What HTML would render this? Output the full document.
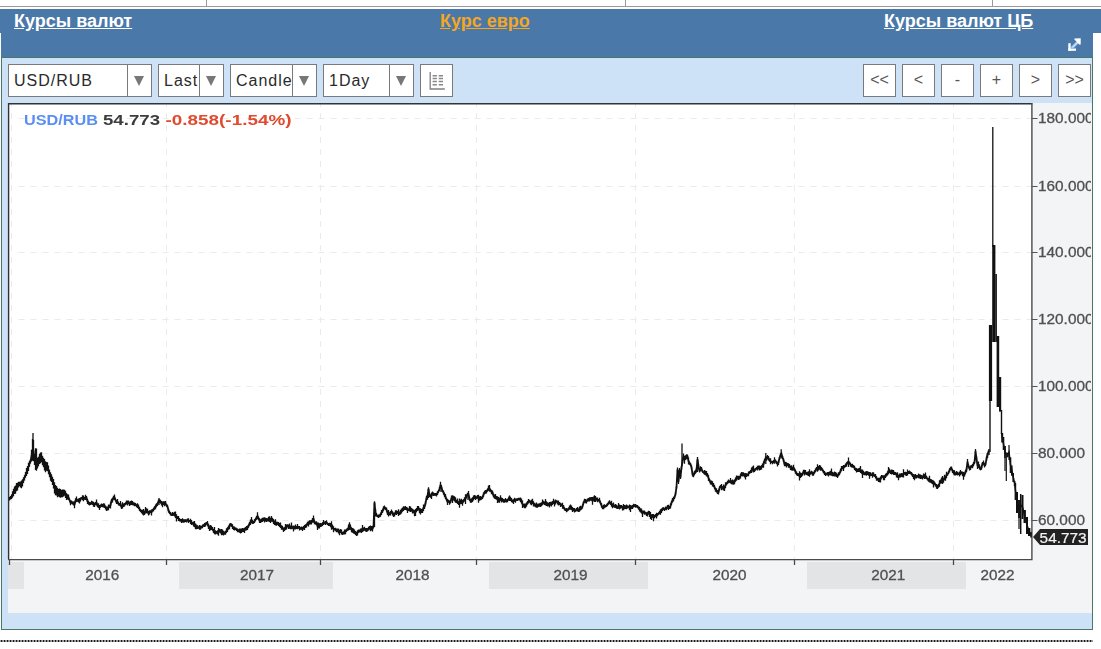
<!DOCTYPE html>
<html><head><meta charset="utf-8">
<style>
html,body{margin:0;padding:0;background:#fff;}
body{width:1101px;height:649px;position:relative;overflow:hidden;font-family:"Liberation Sans",sans-serif;}
.a{position:absolute;}
.hl{position:absolute;top:6px;left:0;width:1101px;height:1px;background:#9a9a9a;}
.vl{position:absolute;top:0;width:1px;height:6px;background:#9a9a9a;}
.hdr{position:absolute;left:0;top:9px;width:1101px;height:24px;background:#4a78a8;}
.ptop{position:absolute;left:1px;top:33px;width:1092px;height:24px;background:#4a78a8;}
.pbody{position:absolute;left:1px;top:57px;width:1090px;height:571px;background:#cde1f7;border:1px solid #467a66;}
.lnk{position:absolute;top:10px;font-size:18px;font-weight:bold;text-decoration:underline;color:#fff;white-space:nowrap;line-height:22px;}
.sel{position:absolute;top:64px;height:31px;background:#fff;border:1px solid #7a7a7a;}
.sel .t{position:absolute;left:5px;top:6px;font-size:16px;color:#2a2a2a;white-space:nowrap;overflow:hidden;line-height:19px;letter-spacing:1px;}
.sel .dv{position:absolute;top:0;width:1px;height:31px;background:#7a7a7a;}
.sel .ar{position:absolute;top:11px;width:0;height:0;border-left:5.5px solid transparent;border-right:5.5px solid transparent;border-top:10px solid #777;margin-left:-1.5px;}
.btn{position:absolute;top:64px;width:31px;height:31px;background:#fff;border:1px solid #7a7a7a;font-size:16px;color:#555;text-align:center;line-height:30px;}
svg text.ax{font-family:"Liberation Sans",sans-serif;font-size:14.5px;font-weight:normal;fill:#505050;stroke:#505050;stroke-width:0.3;}
svg.a{will-change:transform;}
</style></head><body>
<div class="hl"></div>
<div class="vl" style="left:206px"></div>
<div class="vl" style="left:625px"></div>
<div class="vl" style="left:992px"></div>
<div class="hdr"></div>
<div class="ptop"></div>
<div class="pbody"></div>
<div class="lnk" style="left:14px">Курсы валют</div>
<div class="lnk" style="left:440px;color:#f5a623">Курс евро</div>
<div class="lnk" style="left:884px">Курсы валют ЦБ</div>
<svg class="a" style="left:1062px;top:33px" width="26" height="23" viewBox="0 0 26 23">
  <rect x="6.3" y="10.2" width="2.4" height="7.6" fill="#fff"/>
  <rect x="6.3" y="15.5" width="7.7" height="2.3" fill="#fff"/>
  <path d="M9.6,15.2 L16.4,8.4" stroke="#9cc8f2" stroke-width="2.8"/>
  <path d="M10.4,14.4 L15.6,9.2" stroke="#d8ecff" stroke-width="1"/>
  <polygon points="12.4,5.4 18.7,5.3 18.7,11.6 17.2,11.6 15.6,9.8 14.2,8.2 12.4,6.6" fill="#fff"/>
</svg>
<div class="sel" style="left:8px;width:142px"><div class="t" style="width:112px">USD/RUB</div><div class="dv" style="left:118px"></div><div class="ar" style="left:126px"></div></div>
<div class="sel" style="left:158px;width:64px"><div class="t" style="width:35px">Last</div><div class="dv" style="left:40px"></div><div class="ar" style="left:48px"></div></div>
<div class="sel" style="left:230px;width:85px"><div class="t" style="width:56px">Candle</div><div class="dv" style="left:61px"></div><div class="ar" style="left:69px"></div></div>
<div class="sel" style="left:323px;width:89px"><div class="t" style="width:60px">1Day</div><div class="dv" style="left:65px"></div><div class="ar" style="left:73px"></div></div>
<div class="btn" style="left:420px"><svg width="31" height="31" style="position:absolute;left:0;top:0">
<path d="M9.2,7 L9.2,24 L23.8,24" fill="none" stroke="#808080" stroke-width="1.3"/>
<g stroke="#888" stroke-width="1.5"><path d="M11.6,10.7h4.3M17.7,10.7h4.3M11.6,13.6h4.3M17.7,13.6h4.3M11.6,16.6h4.3M17.7,16.6h4.3M11.6,19.7h4.3M17.7,19.7h4.3"/></g>
</svg></div>
<div class="btn" style="left:863px">&lt;&lt;</div>
<div class="btn" style="left:902px">&lt;</div>
<div class="btn" style="left:941px">-</div>
<div class="btn" style="left:980px">+</div>
<div class="btn" style="left:1019px">&gt;</div>
<div class="btn" style="left:1058px">&gt;&gt;</div>
<svg class="a" style="left:0;top:0" width="1101" height="649">
<rect x="8" y="103" width="1084" height="510" fill="#f3f4f6"/>
<rect x="8" y="562" width="16" height="27" fill="#e3e4e6"/><rect x="179" y="562" width="154" height="27" fill="#e3e4e6"/><rect x="489" y="562" width="159" height="27" fill="#e3e4e6"/><rect x="807" y="562" width="159" height="27" fill="#e3e4e6"/>
<rect x="9" y="104" width="1023" height="455" fill="#fff"/>
<line x1="12.5" y1="118.5" x2="1032" y2="118.5" stroke="#ebebeb" stroke-width="1" stroke-dasharray="6 6" stroke-dashoffset="6"/><line x1="12.5" y1="186.5" x2="1032" y2="186.5" stroke="#ebebeb" stroke-width="1" stroke-dasharray="6 6" stroke-dashoffset="6"/><line x1="12.5" y1="252.5" x2="1032" y2="252.5" stroke="#ebebeb" stroke-width="1" stroke-dasharray="6 6" stroke-dashoffset="6"/><line x1="12.5" y1="319.5" x2="1032" y2="319.5" stroke="#ebebeb" stroke-width="1" stroke-dasharray="6 6" stroke-dashoffset="6"/><line x1="12.5" y1="386.5" x2="1032" y2="386.5" stroke="#ebebeb" stroke-width="1" stroke-dasharray="6 6" stroke-dashoffset="6"/><line x1="12.5" y1="453.5" x2="1032" y2="453.5" stroke="#ebebeb" stroke-width="1" stroke-dasharray="6 6" stroke-dashoffset="6"/><line x1="12.5" y1="520.5" x2="1032" y2="520.5" stroke="#ebebeb" stroke-width="1" stroke-dasharray="6 6" stroke-dashoffset="6"/><line x1="11.5" y1="104" x2="11.5" y2="559" stroke="#ebebeb" stroke-width="1" stroke-dasharray="6 6" stroke-dashoffset="3"/><line x1="166.5" y1="104" x2="166.5" y2="559" stroke="#ebebeb" stroke-width="1" stroke-dasharray="6 6" stroke-dashoffset="3"/><line x1="320.5" y1="104" x2="320.5" y2="559" stroke="#ebebeb" stroke-width="1" stroke-dasharray="6 6" stroke-dashoffset="3"/><line x1="476.5" y1="104" x2="476.5" y2="559" stroke="#ebebeb" stroke-width="1" stroke-dasharray="6 6" stroke-dashoffset="3"/><line x1="635.5" y1="104" x2="635.5" y2="559" stroke="#ebebeb" stroke-width="1" stroke-dasharray="6 6" stroke-dashoffset="3"/><line x1="794.5" y1="104" x2="794.5" y2="559" stroke="#ebebeb" stroke-width="1" stroke-dasharray="6 6" stroke-dashoffset="3"/><line x1="953.5" y1="104" x2="953.5" y2="559" stroke="#ebebeb" stroke-width="1" stroke-dasharray="6 6" stroke-dashoffset="3"/>
<path d="M8.6,559 V103.7 H1032.3" fill="none" stroke="#333" stroke-width="1.4"/>
<path d="M1031.9,103 V559.6 H8" fill="none" stroke="#4a4a4a" stroke-width="1.4"/>
<path d="M67.5,496.9 L68.5,497.2 L69.5,500.0 L70.5,502.8 L71.5,502.0 L72.5,503.0 L73.5,503.6 L74.5,504.7 L75.5,500.7 L76.5,499.4 L77.5,500.3 L78.5,500.6 L79.5,500.9 L80.5,499.5 L81.5,498.0 L82.5,497.8 L83.5,498.5 L84.5,498.5 L85.5,497.4 L86.5,497.8 L87.5,501.5 L88.5,502.8 L89.5,503.8 L90.5,503.7 L91.5,502.6 L92.5,503.2 L93.5,504.2 L94.5,504.9 L95.5,503.5 L96.5,502.5 L97.5,505.4 L98.5,505.5 L99.5,507.5 L100.5,505.9 L101.5,505.4 L102.5,505.7 L103.5,505.3 L104.5,505.8 L105.5,507.5 L106.5,508.7 L107.5,508.5 L108.5,507.4 L109.5,506.4 L110.5,505.4 L111.5,500.8 L112.5,500.1 L113.5,497.7 L114.5,497.2 L115.5,499.9 L116.5,502.2 L117.5,501.5 L118.5,503.9 L119.5,504.4 L120.5,503.7 L121.5,507.0 L122.5,505.5 L123.5,505.2 L124.5,504.8 L125.5,503.7 L126.5,502.4 L127.5,503.0 L128.5,502.0 L129.5,504.0 L130.5,503.2 L131.5,502.7 L132.5,503.2 L133.5,503.9 L134.5,504.4 L135.5,504.5 L136.5,505.7 L137.5,505.7 L138.5,506.8 L139.5,509.0 L140.5,510.5 L141.5,511.6 L142.5,512.1 L143.5,512.2 L144.5,513.1 L145.5,510.3 L146.5,510.7 L147.5,511.2 L148.5,513.2 L149.5,512.3 L150.5,511.6 L151.5,512.5 L152.5,510.2 L153.5,509.6 L154.5,508.0 L155.5,506.8 L156.5,505.3 L157.5,504.3 L158.5,501.2 L159.5,501.2 L160.5,501.6 L161.5,503.3 L162.5,504.4 L163.5,503.2 L164.5,503.8 L165.5,503.1 L166.5,505.3 L167.5,506.6 L168.5,510.5 L169.5,512.5 L170.5,513.8 L171.5,514.7 L172.5,514.0 L173.5,514.2 L174.5,514.2 L175.5,514.7 L176.5,517.9 L177.5,517.6 L178.5,518.5 L179.5,519.8 L180.5,520.2 L181.5,520.9 L182.5,520.3 L183.5,521.0 L184.5,520.9 L185.5,520.6 L186.5,521.0 L187.5,520.0 L188.5,520.6 L189.5,521.0 L190.5,521.4 L191.5,522.5 L192.5,523.3 L193.5,524.1 L194.5,524.2 L195.5,526.4 L196.5,526.9 L197.5,527.1 L198.5,527.6 L199.5,527.3 L200.5,527.7 L201.5,527.1 L202.5,526.4 L203.5,525.5 L204.5,525.0 L205.5,524.5 L206.5,523.2 L207.5,523.4 L208.5,526.5 L209.5,528.2 L210.5,527.6 L211.5,527.9 L212.5,528.8 L213.5,530.9 L214.5,530.7 L215.5,532.5 L216.5,532.4 L217.5,532.3 L218.5,531.8 L219.5,530.7 L220.5,531.4 L221.5,532.1 L222.5,532.3 L223.5,533.2 L224.5,533.1 L225.5,532.9 L226.5,530.6 L227.5,529.6 L228.5,527.5 L229.5,526.6 L230.5,524.0 L231.5,525.1 L232.5,526.6 L233.5,528.2 L234.5,528.6 L235.5,528.7 L236.5,529.3 L237.5,530.3 L238.5,530.8 L239.5,530.6 L240.5,531.1 L241.5,530.7 L242.5,529.9 L243.5,530.1 L244.5,530.3 L245.5,528.8 L246.5,528.3 L247.5,527.8 L248.5,526.1 L249.5,523.7 L250.5,522.1 L251.5,520.1 L252.5,521.8 L253.5,522.6 L254.5,521.2 L255.5,519.6 L256.5,517.8 L257.5,515.8 L258.5,518.3 L259.5,520.6 L260.5,521.1 L261.5,520.3 L262.5,519.9 L263.5,519.3 L264.5,519.9 L265.5,519.7 L266.5,520.0 L267.5,519.8 L268.5,519.2 L269.5,519.1 L270.5,520.3 L271.5,518.9 L272.5,519.7 L273.5,521.6 L274.5,522.7 L275.5,522.4 L276.5,523.7 L277.5,523.4 L278.5,523.9 L279.5,525.0 L280.5,525.3 L281.5,527.7 L282.5,527.7 L283.5,529.9 L284.5,529.0 L285.5,527.1 L286.5,527.1 L287.5,525.7 L288.5,526.7 L289.5,526.1 L290.5,527.5 L291.5,525.9 L292.5,527.6 L293.5,528.5 L294.5,527.5 L295.5,527.0 L296.5,527.4 L297.5,526.6 L298.5,527.2 L299.5,528.3 L300.5,528.4 L301.5,528.2 L302.5,529.0 L303.5,527.9 L304.5,527.6 L305.5,526.1 L306.5,525.6 L307.5,523.5 L308.5,523.9 L309.5,522.4 L310.5,522.4 L311.5,522.2 L312.5,520.1 L313.5,518.6 L314.5,522.4 L315.5,523.2 L316.5,523.0 L317.5,526.3 L318.5,525.5 L319.5,525.9 L320.5,525.0 L321.5,525.0 L322.5,524.1 L323.5,522.5 L324.5,523.0 L325.5,523.0 L326.5,522.2 L327.5,523.9 L328.5,524.5 L329.5,524.3 L330.5,525.2 L331.5,525.5 L332.5,526.7 L333.5,529.3 L334.5,529.1 L335.5,529.5 L336.5,530.3 L337.5,530.5 L338.5,531.0 L339.5,532.5 L340.5,531.1 L341.5,532.0 L342.5,533.4 L343.5,533.0 L344.5,532.0 L345.5,531.8 L346.5,530.5 L347.5,529.4 L348.5,527.7 L349.5,524.3 L350.5,527.5 L351.5,529.7 L352.5,530.3 L353.5,530.9 L354.5,531.7 L355.5,533.0 L356.5,533.9 L357.5,532.8 L358.5,531.2 L359.5,531.1 L360.5,530.6 L361.5,530.7 L362.5,528.4 L363.5,529.3 L364.5,528.7 L365.5,529.7 L366.5,530.0 L367.5,529.8 L368.5,528.6 L369.5,527.8 L370.5,528.3 L371.5,528.2 L372.5,528.8 L373.5,526.5 L374.5,503.2 L375.5,512.7 L376.5,514.7 L377.5,516.2 L378.5,516.3 L379.5,515.8 L380.5,514.7 L381.5,512.5 L382.5,511.2 L383.5,508.4 L384.5,507.4 L385.5,508.6 L386.5,509.4 L387.5,512.9 L388.5,513.3 L389.5,513.8 L390.5,513.2 L391.5,511.4 L392.5,513.3 L393.5,514.7 L394.5,514.6 L395.5,512.3 L396.5,512.7 L397.5,512.5 L398.5,512.6 L399.5,513.3 L400.5,512.2 L401.5,511.0 L402.5,509.6 L403.5,508.6 L404.5,508.2 L405.5,508.0 L406.5,508.5 L407.5,510.3 L408.5,509.8 L409.5,508.7 L410.5,509.3 L411.5,509.8 L412.5,511.2 L413.5,511.3 L414.5,513.2 L415.5,512.5 L416.5,510.0 L417.5,508.5 L418.5,507.8 L419.5,510.7 L420.5,511.3 L421.5,511.0 L422.5,510.9 L423.5,507.8 L424.5,507.0 L425.5,503.3 L426.5,498.0 L427.5,496.8 L428.5,489.2 L429.5,495.1 L430.5,496.0 L431.5,495.8 L432.5,493.4 L433.5,494.4 L434.5,494.3 L435.5,494.4 L436.5,494.7 L437.5,493.1 L438.5,491.4 L439.5,489.0 L440.5,484.9 L441.5,487.4 L442.5,491.0 L443.5,492.4 L444.5,495.0 L445.5,496.5 L446.5,499.5 L447.5,501.9 L448.5,501.2 L449.5,502.6 L450.5,501.8 L451.5,498.1 L452.5,499.2 L453.5,498.2 L454.5,498.9 L455.5,499.9 L456.5,501.6 L457.5,501.2 L458.5,503.0 L459.5,503.1 L460.5,501.9 L461.5,501.4 L462.5,502.8 L463.5,500.8 L464.5,499.4 L465.5,499.1 L466.5,496.3 L467.5,494.2 L468.5,494.2 L469.5,498.9 L470.5,501.0 L471.5,500.4 L472.5,499.6 L473.5,498.1 L474.5,497.1 L475.5,497.8 L476.5,497.6 L477.5,496.6 L478.5,498.8 L479.5,498.6 L480.5,498.2 L481.5,498.3 L482.5,497.4 L483.5,494.7 L484.5,492.6 L485.5,491.8 L486.5,491.6 L487.5,490.2 L488.5,488.1 L489.5,488.4 L490.5,490.2 L491.5,492.1 L492.5,492.3 L493.5,495.7 L494.5,496.7 L495.5,496.6 L496.5,497.8 L497.5,499.6 L498.5,499.7 L499.5,500.3 L500.5,498.2 L501.5,500.1 L502.5,499.9 L503.5,500.9 L504.5,501.0 L505.5,500.1 L506.5,500.8 L507.5,500.5 L508.5,499.2 L509.5,496.8 L510.5,499.0 L511.5,500.2 L512.5,501.0 L513.5,501.6 L514.5,499.8 L515.5,500.6 L516.5,499.6 L517.5,499.7 L518.5,499.0 L519.5,499.1 L520.5,499.9 L521.5,501.0 L522.5,504.2 L523.5,505.5 L524.5,505.9 L525.5,505.9 L526.5,504.7 L527.5,502.8 L528.5,501.3 L529.5,501.1 L530.5,502.6 L531.5,502.5 L532.5,501.5 L533.5,503.8 L534.5,504.6 L535.5,505.5 L536.5,505.0 L537.5,505.8 L538.5,505.2 L539.5,504.9 L540.5,504.9 L541.5,504.3 L542.5,502.4 L543.5,502.5 L544.5,503.2 L545.5,502.3 L546.5,503.7 L547.5,504.3 L548.5,504.5 L549.5,504.7 L550.5,503.8 L551.5,504.0 L552.5,503.0 L553.5,501.4 L554.5,503.4 L555.5,502.0 L556.5,501.4 L557.5,502.5 L558.5,503.0 L559.5,503.5 L560.5,504.8 L561.5,504.9 L562.5,505.8 L563.5,506.8 L564.5,508.9 L565.5,509.8 L566.5,510.1 L567.5,510.0 L568.5,509.1 L569.5,507.6 L570.5,507.0 L571.5,507.8 L572.5,509.5 L573.5,509.6 L574.5,510.3 L575.5,510.5 L576.5,509.6 L577.5,509.2 L578.5,510.2 L579.5,509.2 L580.5,508.1 L581.5,508.1 L582.5,506.4 L583.5,502.9 L584.5,500.6 L585.5,501.1 L586.5,501.6 L587.5,500.0 L588.5,499.8 L589.5,499.4 L590.5,499.0 L591.5,498.8 L592.5,501.0 L593.5,498.9 L594.5,498.6 L595.5,499.0 L596.5,499.0 L597.5,499.9 L598.5,500.2 L599.5,500.2 L600.5,503.0 L601.5,505.3 L602.5,507.5 L603.5,507.0 L604.5,506.3 L605.5,506.2 L606.5,505.7 L607.5,504.4 L608.5,503.1 L609.5,502.1 L610.5,503.4 L611.5,503.7 L612.5,505.8 L613.5,504.8 L614.5,506.3 L615.5,506.0 L616.5,506.7 L617.5,507.3 L618.5,505.9 L619.5,507.0 L620.5,506.8 L621.5,506.4 L622.5,508.1 L623.5,507.1 L624.5,507.1 L625.5,507.0 L626.5,506.9 L627.5,506.9 L628.5,507.0 L629.5,507.4 L630.5,508.5 L631.5,507.3 L632.5,507.1 L633.5,505.6 L634.5,505.7 L635.5,505.9 L636.5,506.1 L637.5,506.5 L638.5,508.1 L639.5,509.2 L640.5,510.4 L641.5,510.9 L642.5,513.6 L643.5,511.9 L644.5,512.5 L645.5,513.0 L646.5,514.2 L647.5,514.1 L648.5,512.7 L649.5,514.1 L650.5,515.4 L651.5,517.1 L652.5,515.9 L653.5,517.6 L654.5,516.7 L655.5,515.5 L656.5,515.7 L657.5,514.7 L658.5,513.7 L659.5,512.6 L660.5,512.0 L661.5,510.9 L662.5,509.3 L663.5,508.5 L664.5,509.5 L665.5,508.2 L666.5,508.5 L667.5,506.9 L668.5,507.4 L669.5,507.4 L670.5,505.9 L671.5,502.8 L672.5,500.2 L673.5,499.1 L674.5,497.4 L675.5,494.0 L676.5,487.2 L677.5,469.8 L678.5,481.4 L679.5,470.4 L680.5,477.2 L681.5,467.7 L682.5,461.5 L683.5,455.8 L684.5,459.9 L685.5,457.7 L686.5,456.8 L687.5,456.4 L688.5,461.0 L689.5,463.1 L690.5,464.4 L691.5,467.3 L692.5,474.1 L693.5,475.4 L694.5,472.9 L695.5,471.8 L696.5,470.1 L697.5,459.5 L698.5,466.5 L699.5,470.6 L700.5,468.9 L701.5,468.8 L702.5,471.4 L703.5,472.5 L704.5,472.4 L705.5,473.0 L706.5,473.7 L707.5,474.8 L708.5,478.1 L709.5,480.2 L710.5,482.6 L711.5,482.5 L712.5,484.0 L713.5,484.9 L714.5,487.1 L715.5,489.8 L716.5,490.4 L717.5,492.0 L718.5,492.2 L719.5,488.3 L720.5,486.4 L721.5,487.1 L722.5,487.8 L723.5,487.5 L724.5,488.3 L725.5,485.1 L726.5,483.9 L727.5,482.3 L728.5,481.3 L729.5,481.8 L730.5,480.7 L731.5,482.3 L732.5,482.1 L733.5,482.5 L734.5,482.0 L735.5,479.7 L736.5,478.1 L737.5,477.6 L738.5,477.8 L739.5,477.9 L740.5,476.0 L741.5,474.1 L742.5,474.4 L743.5,474.3 L744.5,475.3 L745.5,476.3 L746.5,475.2 L747.5,475.0 L748.5,473.8 L749.5,472.5 L750.5,471.6 L751.5,470.3 L752.5,469.0 L753.5,468.9 L754.5,470.4 L755.5,469.3 L756.5,468.3 L757.5,468.2 L758.5,467.5 L759.5,468.0 L760.5,468.0 L761.5,467.4 L762.5,465.5 L763.5,464.6 L764.5,460.9 L765.5,458.3 L766.5,458.5 L767.5,457.2 L768.5,458.2 L769.5,460.0 L770.5,461.2 L771.5,461.8 L772.5,462.5 L773.5,461.5 L774.5,460.4 L775.5,460.9 L776.5,462.7 L777.5,464.1 L778.5,462.5 L779.5,458.0 L780.5,455.1 L781.5,453.9 L782.5,457.2 L783.5,460.0 L784.5,464.3 L785.5,464.0 L786.5,464.9 L787.5,464.5 L788.5,465.5 L789.5,465.9 L790.5,467.9 L791.5,467.8 L792.5,468.6 L793.5,467.6 L794.5,469.4 L795.5,471.8 L796.5,473.4 L797.5,474.6 L798.5,474.7 L799.5,475.8 L800.5,475.2 L801.5,475.1 L802.5,474.2 L803.5,471.7 L804.5,472.6 L805.5,472.3 L806.5,473.8 L807.5,473.5 L808.5,473.6 L809.5,473.0 L810.5,473.1 L811.5,472.5 L812.5,473.7 L813.5,473.9 L814.5,471.9 L815.5,470.4 L816.5,468.8 L817.5,467.9 L818.5,468.1 L819.5,467.4 L820.5,468.1 L821.5,468.7 L822.5,469.8 L823.5,471.8 L824.5,472.9 L825.5,474.3 L826.5,474.0 L827.5,473.7 L828.5,474.3 L829.5,473.4 L830.5,473.1 L831.5,472.1 L832.5,474.2 L833.5,474.3 L834.5,473.9 L835.5,474.2 L836.5,474.9 L837.5,476.0 L838.5,474.2 L839.5,473.5 L840.5,470.8 L841.5,468.6 L842.5,467.6 L843.5,468.0 L844.5,466.6 L845.5,465.4 L846.5,464.6 L847.5,462.5 L848.5,462.2 L849.5,462.9 L850.5,464.7 L851.5,465.7 L852.5,465.8 L853.5,466.3 L854.5,468.0 L855.5,469.3 L856.5,470.2 L857.5,470.4 L858.5,470.2 L859.5,469.8 L860.5,469.6 L861.5,471.6 L862.5,473.8 L863.5,472.7 L864.5,473.8 L865.5,473.3 L866.5,473.4 L867.5,473.2 L868.5,473.7 L869.5,475.4 L870.5,474.3 L871.5,474.7 L872.5,475.0 L873.5,474.3 L874.5,475.8 L875.5,476.2 L876.5,478.5 L877.5,479.2 L878.5,479.9 L879.5,480.0 L880.5,479.4 L881.5,476.8 L882.5,476.5 L883.5,477.7 L884.5,477.7 L885.5,475.8 L886.5,474.8 L887.5,473.6 L888.5,470.7 L889.5,470.7 L890.5,472.2 L891.5,472.0 L892.5,471.9 L893.5,472.5 L894.5,473.4 L895.5,473.3 L896.5,475.2 L897.5,475.0 L898.5,477.5 L899.5,475.5 L900.5,475.5 L901.5,475.0 L902.5,475.3 L903.5,473.4 L904.5,473.4 L905.5,473.6 L906.5,474.0 L907.5,472.5 L908.5,472.4 L909.5,472.3 L910.5,472.9 L911.5,473.7 L912.5,475.3 L913.5,476.5 L914.5,477.4 L915.5,476.3 L916.5,476.7 L917.5,476.3 L918.5,475.9 L919.5,476.4 L920.5,476.7 L921.5,476.8 L922.5,477.6 L923.5,475.8 L924.5,476.5 L925.5,475.7 L926.5,477.5 L927.5,479.1 L928.5,479.8 L929.5,479.2 L930.5,480.9 L931.5,481.4 L932.5,481.9 L933.5,484.0 L934.5,483.1 L935.5,485.0 L936.5,486.3 L937.5,486.9 L938.5,486.0 L939.5,483.5 L940.5,481.4 L941.5,480.5 L942.5,479.9 L943.5,480.5 L944.5,477.4 L945.5,478.3 L946.5,474.9 L947.5,474.4 L948.5,472.6 L949.5,470.3 L950.5,468.5 L951.5,468.2 L952.5,471.0 L953.5,472.3 L954.5,472.9 L955.5,473.9 L956.5,473.1 L957.5,473.5 L958.5,473.8 L959.5,473.9 L960.5,472.6 L961.5,472.7 L962.5,473.8 L963.5,475.9 L964.5,474.6 L965.5,471.7 L966.5,469.9 L967.5,462.0 L968.5,466.4 L969.5,468.4 L970.5,467.8 L971.5,466.3 L972.5,466.2 L973.5,464.2 L974.5,462.4 L975.5,451.5 L976.5,458.6 L977.5,465.7 L978.5,464.7 L979.5,466.9 L980.5,469.2 L981.5,467.7 L982.5,463.2 L983.5,462.7 L984.5,465.5 L985.5,464.4 L986.5,458.8 L987.5,454.6 L988.5,451.5" stroke="#111" stroke-width="1.8" fill="none" stroke-linejoin="round"/>
<path d="M9.5,498.8 L10.5,497.7 L11.5,496.7 L12.5,494.6 L13.5,492.5 L14.5,490.3 L15.5,489.5 L16.5,487.1 L17.5,486.6 L18.5,484.7 L19.5,484.0 L20.5,484.6 L21.5,484.4 L22.5,482.8 L23.5,480.1 L24.5,477.8 L25.5,474.9 L26.5,472.1 L27.5,470.1 L28.5,466.8 L29.5,463.7 L30.5,461.3 L31.5,455.6 L32.5,449.8 L33.5,450.7 L34.5,459.6 L35.5,459.0 L36.5,459.6 L37.5,463.2 L38.5,461.6 L39.5,458.9 L40.5,457.9 L41.5,457.3 L42.5,460.4 L43.5,462.5 L44.5,464.8 L45.5,466.8 L46.5,466.4 L47.5,466.7 L48.5,469.9 L49.5,473.5 L50.5,476.5 L51.5,478.1 L52.5,480.9 L53.5,483.7 L54.5,487.8 L55.5,490.1 L56.5,490.7 L57.5,492.4 L58.5,492.8 L59.5,492.8 L60.5,493.3 L61.5,493.7 L62.5,493.3 L63.5,493.0 L64.5,492.8 L65.5,494.3 L66.5,496.5 L67.5,496.9" stroke="#111" stroke-width="1.6" fill="none" stroke-linejoin="round"/>
<path d="M9.5,497.0V500.6M10.5,496.0V499.5M11.5,494.4V499.0M12.5,491.3V497.8M13.5,488.8V496.2M14.5,486.6V494.1M15.5,485.4V493.7M16.5,483.1V491.2M17.5,482.8V490.5M18.5,481.7V487.6M19.5,481.8V486.3M20.5,481.6V487.6M21.5,480.4V488.3M22.5,479.2V486.5M23.5,477.2V482.9M24.5,475.2V480.4M25.5,472.1V477.7M26.5,468.1V476.1M27.5,466.1V474.0M28.5,462.8V470.9M29.5,460.7V466.7M30.5,459.1V463.5M31.5,449.8V461.4M32.5,438.9V460.7M33.5,440.1V461.2M34.5,454.1V465.1M35.5,448.2V469.9M36.5,448.5V470.8M37.5,457.8V468.5M38.5,456.8V466.3M39.5,453.8V464.0M40.5,452.6V463.2M41.5,452.2V462.3M42.5,455.7V465.2M43.5,457.7V467.2M44.5,459.0V470.5M45.5,461.2V472.3M46.5,462.0V470.7M47.5,462.2V471.2M48.5,465.5V474.3M49.5,469.7V477.2M50.5,472.3V480.8M51.5,474.3V481.9M52.5,476.8V485.0M53.5,478.9V488.5M54.5,482.3V493.4M55.5,484.9V495.3M56.5,485.9V495.6M57.5,487.7V497.2M58.5,489.1V496.5M59.5,488.4V497.2M60.5,489.0V497.7M61.5,490.1V497.3M62.5,489.4V497.3M63.5,489.4V496.5M64.5,489.8V495.7M65.5,490.7V497.9M66.5,493.0V500.0M67.5,494.3V499.5M68.5,494.4V499.9M69.5,498.7V501.2M70.5,500.3V505.2M71.5,500.4V503.7M72.5,501.6V504.4M73.5,501.6V505.6M74.5,501.3V508.2M75.5,498.3V503.0M76.5,496.6V502.1M77.5,498.9V501.7M78.5,498.5V502.6M79.5,498.1V503.6M80.5,497.6V501.4M81.5,497.0V499.0M82.5,495.2V500.3M83.5,495.6V501.3M84.5,497.1V499.8M85.5,494.8V500.1M86.5,496.0V499.6M87.5,499.0V503.9M88.5,500.8V504.8M89.5,502.1V505.5M90.5,502.5V504.9M91.5,500.7V504.4M92.5,501.3V505.1M93.5,501.7V506.7M94.5,502.7V507.1M95.5,502.1V505.0M96.5,499.6V505.5M97.5,503.4V507.3M98.5,503.2V507.9M99.5,504.9V510.0M100.5,504.4V507.4M101.5,503.6V507.1M102.5,504.1V507.2M103.5,503.2V507.5M104.5,503.6V508.1M105.5,505.4V509.6M106.5,506.4V511.1M107.5,506.4V510.6M108.5,504.5V510.3M109.5,504.8V508.0M110.5,502.3V508.5M111.5,498.7V502.9M112.5,497.7V502.5M113.5,495.8V499.5M114.5,494.4V499.9M115.5,498.7V501.2M116.5,500.2V504.1M117.5,499.1V504.0M118.5,502.5V505.4M119.5,503.1V505.7M120.5,501.0V506.5M121.5,505.1V508.9M122.5,502.3V508.6M123.5,503.4V507.0M124.5,503.0V506.6M125.5,502.5V504.8M126.5,500.5V504.4M127.5,500.6V505.4M128.5,500.4V503.7M129.5,502.2V505.9M130.5,501.1V505.3M131.5,500.5V504.9M132.5,501.0V505.3M133.5,502.2V505.6M134.5,502.6V506.2M135.5,503.1V505.9M136.5,504.2V507.2M137.5,503.3V508.1M138.5,504.6V508.9M139.5,507.0V511.0M140.5,509.1V511.9M141.5,509.8V513.3M142.5,509.8V514.4M143.5,509.0V515.5M144.5,511.4V514.9M145.5,507.1V513.6M146.5,508.2V513.2M147.5,508.7V513.6M148.5,510.9V515.5M149.5,510.2V514.4M150.5,510.2V513.0M151.5,509.4V515.5M152.5,508.9V511.4M153.5,507.7V511.4M154.5,506.3V509.8M155.5,504.4V509.2M156.5,503.2V507.3M157.5,502.4V506.1M158.5,499.5V502.9M159.5,499.3V503.1M160.5,499.8V503.5M161.5,501.0V505.6M162.5,501.5V507.2M163.5,501.2V505.1M164.5,501.3V506.3M165.5,501.0V505.3M166.5,504.0V506.7M167.5,504.8V508.3M168.5,508.6V512.5M169.5,510.9V514.0M170.5,511.9V515.6M171.5,513.7V515.8M172.5,511.9V516.1M173.5,512.7V515.7M174.5,511.8V516.5M175.5,511.5V518.0M176.5,514.2V521.6M177.5,516.1V519.1M178.5,515.9V521.1M179.5,518.0V521.6M180.5,519.0V521.5M181.5,518.9V522.9M182.5,518.2V522.4M183.5,519.3V522.8M184.5,519.2V522.6M185.5,519.3V521.9M186.5,519.4V522.5M187.5,518.6V521.4M188.5,518.3V522.9M189.5,520.1V522.0M190.5,518.8V523.9M191.5,519.9V525.1M192.5,522.2V524.5M193.5,521.5V526.6M194.5,521.1V527.3M195.5,523.6V529.2M196.5,524.6V529.2M197.5,525.2V528.9M198.5,526.4V528.8M199.5,524.9V529.8M200.5,525.6V529.8M201.5,525.7V528.5M202.5,524.5V528.2M203.5,524.2V526.8M204.5,523.1V526.9M205.5,522.4V526.6M206.5,521.9V524.6M207.5,521.1V525.8M208.5,524.0V529.1M209.5,525.5V531.0M210.5,525.0V530.3M211.5,525.7V530.1M212.5,527.1V530.5M213.5,528.9V532.9M214.5,527.0V534.3M215.5,530.4V534.5M216.5,531.0V533.8M217.5,530.2V534.4M218.5,527.9V535.7M219.5,528.8V532.6M220.5,529.3V533.6M221.5,529.1V535.2M222.5,529.5V535.1M223.5,530.8V535.5M224.5,531.5V534.7M225.5,531.0V534.8M226.5,528.3V532.9M227.5,527.3V532.0M228.5,525.4V529.5M229.5,523.8V529.3M230.5,522.9V525.1M231.5,523.5V526.7M232.5,524.3V528.9M233.5,526.4V530.1M234.5,526.6V530.6M235.5,527.4V530.0M236.5,527.7V530.9M237.5,528.4V532.3M238.5,529.3V532.2M239.5,528.5V532.7M240.5,528.6V533.5M241.5,528.5V532.9M242.5,528.0V531.9M243.5,528.3V531.9M244.5,527.7V532.9M245.5,527.0V530.5M246.5,525.9V530.6M247.5,525.5V530.1M248.5,524.5V527.7M249.5,521.9V525.4M250.5,519.4V524.9M251.5,516.9V523.3M252.5,519.7V524.0M253.5,521.5V523.7M254.5,519.3V523.1M255.5,518.1V521.2M256.5,515.9V519.8M257.5,512.3V519.2M258.5,516.8V519.7M259.5,518.2V523.0M260.5,519.2V523.0M261.5,518.4V522.2M262.5,517.8V522.1M263.5,517.5V521.1M264.5,517.2V522.6M265.5,517.8V521.5M266.5,518.0V522.0M267.5,518.3V521.4M268.5,516.7V521.6M269.5,516.3V521.9M270.5,517.8V522.9M271.5,515.9V521.8M272.5,517.7V521.7M273.5,519.1V524.0M274.5,520.4V525.1M275.5,519.2V525.5M276.5,521.8V525.7M277.5,521.8V524.9M278.5,522.0V525.9M279.5,523.0V527.0M280.5,522.6V527.9M281.5,525.5V529.8M282.5,525.8V529.6M283.5,527.8V532.0M284.5,527.2V530.9M285.5,524.0V530.1M286.5,524.6V529.6M287.5,524.3V527.2M288.5,524.5V528.9M289.5,523.5V528.8M290.5,525.8V529.2M291.5,522.5V529.3M292.5,526.5V528.8M293.5,525.4V531.5M294.5,525.7V529.4M295.5,524.5V529.6M296.5,525.9V528.9M297.5,524.0V529.2M298.5,525.9V528.4M299.5,525.9V530.6M300.5,527.2V529.7M301.5,526.6V529.8M302.5,526.9V531.1M303.5,526.1V529.6M304.5,525.1V530.0M305.5,524.2V528.0M306.5,523.8V527.4M307.5,521.7V525.3M308.5,521.3V526.4M309.5,520.3V524.5M310.5,520.2V524.6M311.5,520.0V524.4M312.5,518.0V522.1M313.5,515.4V521.7M314.5,520.4V524.3M315.5,521.5V524.8M316.5,521.3V524.7M317.5,522.4V530.1M318.5,522.4V528.6M319.5,523.3V528.4M320.5,523.0V527.0M321.5,523.2V526.8M322.5,522.2V526.0M323.5,520.1V524.9M324.5,521.6V524.3M325.5,521.0V524.9M326.5,520.3V524.0M327.5,522.7V525.0M328.5,523.1V525.9M329.5,522.7V525.9M330.5,523.1V527.3M331.5,521.3V529.8M332.5,524.4V529.1M333.5,526.2V532.3M334.5,528.0V530.3M335.5,527.7V531.3M336.5,528.4V532.2M337.5,528.6V532.3M338.5,528.6V533.4M339.5,529.7V535.3M340.5,529.0V533.1M341.5,529.6V534.5M342.5,531.9V534.9M343.5,531.5V534.4M344.5,529.4V534.5M345.5,529.4V534.3M346.5,528.8V532.1M347.5,528.0V530.7M348.5,524.8V530.6M349.5,522.3V526.4M350.5,525.3V529.7M351.5,527.2V532.2M352.5,527.9V532.8M353.5,528.5V533.4M354.5,529.4V533.9M355.5,531.1V535.0M356.5,531.8V535.9M357.5,530.3V535.4M358.5,529.4V533.1M359.5,529.5V532.6M360.5,528.5V532.6M361.5,528.4V532.9M362.5,524.9V531.9M363.5,527.5V531.2M364.5,526.7V530.7M365.5,527.9V531.6M366.5,528.1V532.0M367.5,528.0V531.6M368.5,526.7V530.5M369.5,525.9V529.7M370.5,525.4V531.2M371.5,526.1V530.4M372.5,526.1V531.4M373.5,525.0V527.9M374.5,501.2V505.2M375.5,508.8V516.6M376.5,512.9V516.5M377.5,515.3V517.2M378.5,514.6V517.9M379.5,514.4V517.2M380.5,512.8V516.7M381.5,510.0V514.9M382.5,509.5V513.0M383.5,506.2V510.7M384.5,505.4V509.3M385.5,507.1V510.1M386.5,507.6V511.2M387.5,510.7V515.0M388.5,510.1V516.6M389.5,512.3V515.4M390.5,510.9V515.4M391.5,509.6V513.2M392.5,511.2V515.4M393.5,512.5V516.9M394.5,512.8V516.5M395.5,510.2V514.5M396.5,510.3V515.1M397.5,510.9V514.0M398.5,509.2V516.0M399.5,511.5V515.1M400.5,509.8V514.6M401.5,508.5V513.4M402.5,507.5V511.8M403.5,506.3V510.9M404.5,506.5V509.9M405.5,505.9V510.0M406.5,507.1V510.0M407.5,507.5V513.1M408.5,508.8V510.9M409.5,505.9V511.5M410.5,506.5V512.1M411.5,508.1V511.4M412.5,508.8V513.6M413.5,509.4V513.1M414.5,510.1V516.2M415.5,509.1V515.9M416.5,507.9V512.0M417.5,505.9V511.1M418.5,506.0V509.6M419.5,508.3V513.2M420.5,508.2V514.4M421.5,509.1V512.9M422.5,508.8V513.0M423.5,504.5V511.0M424.5,504.9V509.1M425.5,500.9V505.6M426.5,495.8V500.2M427.5,493.8V499.8M428.5,487.3V491.1M429.5,493.3V496.9M430.5,494.2V497.7M431.5,492.5V499.1M432.5,491.5V495.3M433.5,492.6V496.1M434.5,492.9V495.7M435.5,492.9V495.8M436.5,493.0V496.4M437.5,491.2V495.0M438.5,490.1V492.6M439.5,487.1V491.0M440.5,481.7V488.1M441.5,485.8V489.1M442.5,490.1V492.0M443.5,490.5V494.4M444.5,492.7V497.3M445.5,494.1V498.9M446.5,498.4V500.5M447.5,498.7V505.1M448.5,499.8V502.6M449.5,500.5V504.7M450.5,500.1V503.5M451.5,495.6V500.6M452.5,495.3V503.1M453.5,495.7V500.6M454.5,496.3V501.5M455.5,497.2V502.7M456.5,500.1V503.1M457.5,498.4V504.0M458.5,501.2V504.9M459.5,498.4V507.8M460.5,499.5V504.3M461.5,498.8V503.9M462.5,499.9V505.8M463.5,499.2V502.3M464.5,497.3V501.4M465.5,494.2V504.0M466.5,494.5V498.1M467.5,492.8V495.6M468.5,491.0V497.5M469.5,497.2V500.6M470.5,499.3V502.8M471.5,498.2V502.7M472.5,497.3V501.9M473.5,495.6V500.6M474.5,495.1V499.1M475.5,495.6V500.1M476.5,496.4V498.8M477.5,494.9V498.3M478.5,494.8V502.8M479.5,496.3V500.8M480.5,496.1V500.3M481.5,496.8V499.8M482.5,495.8V498.9M483.5,492.6V496.8M484.5,490.8V494.3M485.5,489.9V493.7M486.5,489.7V493.5M487.5,488.8V491.6M488.5,485.4V490.8M489.5,484.9V491.8M490.5,489.1V491.3M491.5,489.9V494.3M492.5,490.4V494.2M493.5,493.8V497.6M494.5,494.5V498.8M495.5,494.0V499.2M496.5,496.1V499.4M497.5,496.2V503.0M498.5,496.9V502.5M499.5,497.7V502.8M500.5,495.3V501.1M501.5,497.6V502.5M502.5,498.1V501.7M503.5,499.1V502.8M504.5,499.2V502.7M505.5,498.0V502.3M506.5,499.2V502.5M507.5,498.7V502.3M508.5,497.8V500.5M509.5,495.6V498.1M510.5,496.9V501.0M511.5,498.1V502.2M512.5,499.4V502.7M513.5,499.3V503.9M514.5,497.8V501.8M515.5,498.4V502.8M516.5,498.5V500.7M517.5,498.3V501.0M518.5,497.7V500.2M519.5,497.7V500.5M520.5,497.5V502.2M521.5,498.6V503.4M522.5,500.5V507.9M523.5,503.8V507.2M524.5,503.4V508.3M525.5,503.5V508.3M526.5,502.6V506.8M527.5,500.9V504.6M528.5,499.1V503.5M529.5,499.7V502.4M530.5,500.7V504.5M531.5,499.8V505.2M532.5,498.8V504.1M533.5,501.2V506.4M534.5,502.7V506.6M535.5,503.6V507.3M536.5,502.4V507.7M537.5,503.7V507.8M538.5,503.4V507.0M539.5,503.2V506.7M540.5,502.7V507.1M541.5,502.4V506.2M542.5,499.6V505.2M543.5,500.8V504.2M544.5,501.5V504.9M545.5,499.1V505.4M546.5,501.3V506.0M547.5,502.2V506.5M548.5,502.7V506.2M549.5,502.0V507.4M550.5,501.8V505.8M551.5,501.7V506.4M552.5,501.0V504.9M553.5,498.7V504.1M554.5,500.4V506.4M555.5,499.5V504.4M556.5,500.2V502.6M557.5,500.4V504.6M558.5,500.5V505.5M559.5,502.0V505.1M560.5,502.7V506.9M561.5,503.6V506.2M562.5,502.8V508.7M563.5,505.0V508.7M564.5,507.4V510.4M565.5,508.6V511.0M566.5,508.0V512.3M567.5,508.5V511.4M568.5,507.7V510.6M569.5,505.5V509.7M570.5,504.4V509.7M571.5,505.4V510.2M572.5,507.0V512.0M573.5,507.9V511.3M574.5,508.1V512.4M575.5,509.4V511.7M576.5,507.9V511.3M577.5,507.0V511.4M578.5,508.5V512.0M579.5,506.6V511.8M580.5,505.8V510.4M581.5,506.4V509.8M582.5,504.5V508.4M583.5,501.7V504.1M584.5,498.7V502.5M585.5,499.1V503.2M586.5,499.7V503.5M587.5,498.4V501.6M588.5,498.0V501.5M589.5,497.2V501.5M590.5,497.2V500.8M591.5,497.1V500.5M592.5,497.1V504.8M593.5,496.6V501.1M594.5,495.2V502.1M595.5,496.0V502.0M596.5,497.4V500.7M597.5,497.5V502.3M598.5,499.0V501.4M599.5,497.7V502.6M600.5,501.6V504.3M601.5,503.1V507.5M602.5,505.9V509.2M603.5,504.8V509.2M604.5,504.3V508.2M605.5,504.9V507.6M606.5,504.5V507.0M607.5,503.0V505.9M608.5,501.6V504.5M609.5,500.3V503.8M610.5,501.8V505.0M611.5,500.7V506.8M612.5,503.4V508.3M613.5,502.4V507.3M614.5,504.9V507.7M615.5,504.0V508.0M616.5,504.7V508.7M617.5,505.8V508.9M618.5,503.0V508.7M619.5,504.6V509.4M620.5,504.9V508.7M621.5,504.9V508.0M622.5,505.7V510.5M623.5,504.0V510.2M624.5,505.0V509.2M625.5,505.2V508.9M626.5,504.5V509.3M627.5,505.3V508.6M628.5,505.8V508.2M629.5,504.6V510.2M630.5,505.0V512.0M631.5,505.5V509.1M632.5,505.1V509.1M633.5,503.8V507.4M634.5,504.3V507.1M635.5,504.0V507.8M636.5,504.7V507.6M637.5,505.0V508.1M638.5,506.6V509.6M639.5,506.7V511.6M640.5,508.2V512.6M641.5,508.5V513.2M642.5,510.4V516.9M643.5,510.4V513.3M644.5,510.4V514.7M645.5,511.8V514.3M646.5,512.3V516.1M647.5,511.7V516.4M648.5,510.8V514.6M649.5,511.1V517.0M650.5,512.0V518.9M651.5,514.2V520.0M652.5,514.1V517.8M653.5,514.1V521.2M654.5,515.0V518.3M655.5,514.1V516.9M656.5,512.8V518.6M657.5,513.1V516.2M658.5,512.6V514.8M659.5,510.8V514.3M660.5,509.3V514.7M661.5,508.6V513.1M662.5,507.6V511.0M663.5,507.2V509.7M664.5,507.9V511.1M665.5,506.4V510.0M666.5,506.8V510.2M667.5,504.9V508.8M668.5,504.8V509.9M669.5,505.9V509.0M670.5,503.4V508.4M671.5,500.7V505.0M672.5,497.9V502.6M673.5,496.7V501.5M674.5,495.9V498.9M675.5,492.2V495.8M676.5,486.1V488.4M677.5,467.6V472.0M678.5,478.7V484.1M679.5,468.1V472.6M680.5,475.4V479.0M681.5,466.1V469.4M682.5,459.7V463.3M683.5,453.4V458.1M684.5,456.1V463.8M685.5,455.3V460.1M686.5,454.3V459.2M687.5,454.4V458.4M688.5,457.5V464.5M689.5,461.4V464.8M690.5,463.0V465.8M691.5,465.4V469.3M692.5,471.6V476.5M693.5,473.6V477.2M694.5,470.8V474.9M695.5,469.8V473.8M696.5,467.7V472.6M697.5,457.1V461.8M698.5,463.8V469.2M699.5,468.6V472.6M700.5,466.2V471.6M701.5,467.1V470.4M702.5,470.2V472.6M703.5,471.4V473.6M704.5,470.0V474.8M705.5,470.8V475.2M706.5,471.0V476.4M707.5,473.0V476.6M708.5,475.3V480.9M709.5,478.8V481.6M710.5,480.8V484.5M711.5,480.4V484.7M712.5,481.3V486.6M713.5,482.9V486.9M714.5,485.1V489.0M715.5,487.8V491.7M716.5,488.3V492.6M717.5,490.0V493.9M718.5,489.8V494.6M719.5,486.2V490.3M720.5,485.0V487.7M721.5,484.0V490.2M722.5,486.2V489.4M723.5,484.6V490.5M724.5,485.8V490.9M725.5,482.2V487.9M726.5,482.6V485.3M727.5,480.8V483.8M728.5,479.4V483.2M729.5,480.8V482.8M730.5,477.9V483.6M731.5,480.3V484.2M732.5,479.6V484.6M733.5,480.2V484.8M734.5,479.6V484.3M735.5,477.6V481.8M736.5,475.5V480.7M737.5,475.8V479.5M738.5,475.8V479.9M739.5,476.3V479.6M740.5,473.5V478.5M741.5,472.1V476.1M742.5,472.3V476.4M743.5,472.2V476.3M744.5,473.2V477.4M745.5,473.0V479.6M746.5,473.2V477.1M747.5,473.7V476.3M748.5,471.4V476.2M749.5,471.2V473.8M750.5,469.9V473.3M751.5,467.5V473.1M752.5,466.4V471.6M753.5,465.5V472.4M754.5,468.7V472.0M755.5,468.0V470.6M756.5,467.1V469.4M757.5,465.8V470.6M758.5,465.5V469.4M759.5,465.5V470.6M760.5,466.1V470.0M761.5,465.3V469.5M762.5,463.5V467.5M763.5,461.5V467.7M764.5,459.1V462.7M765.5,456.6V460.0M766.5,456.3V460.7M767.5,455.0V459.5M768.5,455.9V460.6M769.5,458.4V461.7M770.5,458.2V464.2M771.5,460.7V462.9M772.5,460.9V464.2M773.5,459.9V463.2M774.5,457.2V463.7M775.5,459.4V462.3M776.5,461.2V464.1M777.5,461.7V466.5M778.5,459.9V465.1M779.5,456.9V459.2M780.5,453.3V457.0M781.5,452.0V455.8M782.5,455.9V458.5M783.5,458.2V461.8M784.5,462.4V466.2M785.5,461.8V466.3M786.5,462.2V467.6M787.5,462.9V466.1M788.5,463.2V467.7M789.5,464.1V467.8M790.5,465.8V470.0M791.5,465.2V470.5M792.5,466.6V470.7M793.5,464.7V470.5M794.5,467.7V471.1M795.5,469.8V473.8M796.5,471.5V475.2M797.5,473.3V475.9M798.5,473.2V476.2M799.5,471.2V480.5M800.5,472.4V478.1M801.5,473.1V477.1M802.5,472.7V475.7M803.5,469.8V473.7M804.5,469.7V475.5M805.5,470.1V474.5M806.5,472.5V475.1M807.5,471.7V475.4M808.5,471.2V475.9M809.5,469.3V476.7M810.5,471.5V474.7M811.5,470.8V474.3M812.5,471.6V475.8M813.5,472.0V475.8M814.5,470.3V473.4M815.5,468.5V472.3M816.5,466.9V470.6M817.5,464.2V471.7M818.5,465.9V470.4M819.5,465.0V469.8M820.5,465.5V470.7M821.5,467.0V470.4M822.5,468.6V471.0M823.5,470.2V473.3M824.5,470.9V475.0M825.5,472.4V476.1M826.5,472.7V475.2M827.5,472.0V475.4M828.5,472.1V476.5M829.5,471.5V475.2M830.5,470.8V475.4M831.5,468.5V475.7M832.5,472.1V476.2M833.5,472.5V476.2M834.5,471.4V476.4M835.5,472.0V476.4M836.5,472.8V477.1M837.5,474.0V478.0M838.5,472.2V476.2M839.5,471.9V475.2M840.5,468.8V472.8M841.5,466.1V471.2M842.5,465.9V469.2M843.5,464.9V471.0M844.5,465.6V467.6M845.5,463.4V467.3M846.5,462.5V466.7M847.5,461.2V463.7M848.5,457.6V466.9M849.5,461.6V464.3M850.5,462.7V466.8M851.5,463.9V467.5M852.5,463.7V467.8M853.5,464.9V467.8M854.5,465.8V470.1M855.5,467.8V470.9M856.5,468.0V472.4M857.5,468.8V472.0M858.5,468.3V472.1M859.5,467.7V471.9M860.5,466.1V473.1M861.5,469.7V473.5M862.5,469.5V478.1M863.5,470.8V474.7M864.5,472.5V475.2M865.5,471.4V475.2M866.5,471.1V475.7M867.5,471.2V475.1M868.5,471.8V475.6M869.5,472.1V478.7M870.5,472.3V476.2M871.5,473.5V476.0M872.5,472.2V477.8M873.5,472.2V476.3M874.5,474.5V477.0M875.5,474.0V478.3M876.5,476.3V480.7M877.5,477.8V480.6M878.5,477.8V482.1M879.5,477.8V482.2M880.5,476.4V482.4M881.5,474.9V478.6M882.5,475.3V477.7M883.5,475.3V480.2M884.5,475.2V480.2M885.5,473.8V477.9M886.5,473.1V476.4M887.5,471.6V475.5M888.5,467.1V474.3M889.5,468.5V473.0M890.5,470.3V474.0M891.5,469.5V474.6M892.5,469.7V474.0M893.5,470.0V474.9M894.5,471.7V475.1M895.5,472.0V474.5M896.5,472.8V477.6M897.5,472.3V477.7M898.5,474.7V480.2M899.5,473.5V477.5M900.5,473.4V477.6M901.5,473.1V476.9M902.5,473.4V477.2M903.5,469.2V477.6M904.5,472.1V474.8M905.5,471.7V475.5M906.5,472.0V476.0M907.5,469.6V475.4M908.5,471.0V473.9M909.5,470.6V474.0M910.5,471.5V474.3M911.5,472.1V475.2M912.5,473.6V477.0M913.5,473.9V479.1M914.5,474.4V480.3M915.5,474.0V478.5M916.5,475.0V478.4M917.5,475.2V477.5M918.5,473.5V478.2M919.5,474.3V478.6M920.5,474.4V479.1M921.5,474.9V478.8M922.5,475.8V479.4M923.5,473.5V478.1M924.5,474.0V479.1M925.5,472.6V478.8M926.5,476.1V478.9M927.5,477.8V480.4M928.5,477.8V481.8M929.5,475.8V482.5M930.5,478.9V482.8M931.5,479.3V483.5M932.5,479.9V483.9M933.5,480.4V487.6M934.5,481.5V484.7M935.5,483.5V486.6M936.5,483.9V488.7M937.5,484.8V489.0M938.5,484.2V487.8M939.5,480.3V486.7M940.5,479.4V483.4M941.5,477.4V483.5M942.5,475.9V483.9M943.5,478.3V482.8M944.5,474.8V480.0M945.5,475.7V480.8M946.5,471.7V478.0M947.5,472.9V475.8M948.5,471.3V474.0M949.5,468.5V472.2M950.5,466.7V470.3M951.5,466.4V470.1M952.5,469.0V473.0M953.5,470.1V474.4M954.5,470.3V475.5M955.5,472.3V475.5M956.5,471.1V475.0M957.5,471.7V475.4M958.5,472.5V475.1M959.5,471.4V476.4M960.5,470.0V475.3M961.5,471.4V474.1M962.5,471.6V475.9M963.5,472.1V479.7M964.5,472.7V476.4M965.5,469.7V473.7M966.5,467.5V472.3M967.5,459.1V464.8M968.5,464.6V468.3M969.5,466.4V470.5M970.5,465.5V470.1M971.5,465.1V467.5M972.5,464.1V468.3M973.5,462.0V466.3M974.5,460.6V464.1M975.5,449.1V453.8M976.5,456.3V460.9M977.5,462.2V469.1M978.5,461.4V468.1M979.5,464.4V469.5M980.5,468.1V470.3M981.5,465.5V469.8M982.5,462.1V464.3M983.5,460.5V464.8M984.5,463.6V467.4M985.5,462.7V466.2M986.5,456.6V460.9M987.5,453.0V456.2M988.5,450.2V452.8" stroke="#111" stroke-width="1.3" fill="none"/>
<path d="M33,433V458" stroke="#111" stroke-width="1.3"/><path d="M682,443.6V466" stroke="#111" stroke-width="1.3"/><path d="M374.5,502V527" stroke="#111" stroke-width="1.3"/><path d="M428.5,489V498" stroke="#111" stroke-width="1.3"/><path d="M697.5,460V472" stroke="#111" stroke-width="1.3"/><path d="M781.2,449.2V458.5" stroke="#111" stroke-width="1.3"/><path d="M765.8,453V464" stroke="#111" stroke-width="1.3"/><path d="M159,498V505" stroke="#111" stroke-width="1.3"/><path d="M313,518V523" stroke="#111" stroke-width="1.3"/><path d="M349.5,524V530" stroke="#111" stroke-width="1.3"/><path d="M441,485V492" stroke="#111" stroke-width="1.3"/><path d="M468,493V500" stroke="#111" stroke-width="1.3"/><path d="M509.5,497V501" stroke="#111" stroke-width="1.3"/><path d="M987.5,453V458" stroke="#111" stroke-width="1.4"/><path d="M989.0,449V455" stroke="#111" stroke-width="1.4"/><path d="M990.0,401V452" stroke="#111" stroke-width="1.4"/><path d="M990.5,325V401" stroke="#111" stroke-width="3.2"/><path d="M992.8,127V247" stroke="#111" stroke-width="1.3"/><path d="M993.8,245V342" stroke="#111" stroke-width="3.2"/><path d="M996.1,274V342" stroke="#111" stroke-width="1.6"/><path d="M997.9,336V407" stroke="#111" stroke-width="2.6"/><path d="M1000.1,377V411.6" stroke="#111" stroke-width="2.2"/><path d="M1001.5,410V434" stroke="#111" stroke-width="1.4"/><path d="M1002.2,433V442.5" stroke="#111" stroke-width="2.0"/><path d="M1003.5,437V450" stroke="#111" stroke-width="1.6"/><path d="M1005.0,446V458" stroke="#111" stroke-width="1.6"/><path d="M1005.0,446V471" stroke="#111" stroke-width="1.2"/><path d="M1006.3,452.7V481" stroke="#111" stroke-width="1.2"/><path d="M1007.7,452.7V457.3" stroke="#111" stroke-width="1.6"/><path d="M1009,444.9V460" stroke="#111" stroke-width="1.2"/><path d="M1010.5,457.3V473" stroke="#111" stroke-width="1.6"/><path d="M1011.8,465.6V475.8" stroke="#111" stroke-width="1.6"/><path d="M1013.2,473V482" stroke="#111" stroke-width="1.6"/><path d="M1014.6,481V486" stroke="#111" stroke-width="1.6"/><path d="M1015.4,483V500" stroke="#111" stroke-width="1.6"/><path d="M1017,492V513" stroke="#111" stroke-width="2.0"/><path d="M1019,500V518" stroke="#111" stroke-width="1.8"/><path d="M1019,500V529" stroke="#111" stroke-width="1.2"/><path d="M1020.7,494V534" stroke="#111" stroke-width="1.5"/><path d="M1022.5,495V519" stroke="#111" stroke-width="2.0"/><path d="M1024.7,510V523" stroke="#111" stroke-width="2.4"/><path d="M1027,517V534" stroke="#111" stroke-width="2.0"/><path d="M1029.2,528V536" stroke="#111" stroke-width="2.4"/><path d="M1031,532V537.5" stroke="#111" stroke-width="1.6"/>
<path d="M1001.5,433 L1002.5,438 L1003.5,444 L1005,452 L1007.7,455 L1009,452 L1010.5,465 L1011.8,470 L1013.2,477 L1014.6,483 L1015.4,490 L1017,502 L1019,509 L1020.7,505 L1022.5,507 L1024.7,516 L1027,525 L1029.2,532 L1031,535" stroke="#111" stroke-width="1.5" fill="none"/>

<line x1="9.5" y1="559" x2="9.5" y2="565" stroke="#4a4a4a" stroke-width="1.3"/><line x1="166.5" y1="559" x2="166.5" y2="565" stroke="#4a4a4a" stroke-width="1.3"/><line x1="320.5" y1="559" x2="320.5" y2="565" stroke="#4a4a4a" stroke-width="1.3"/><line x1="476.5" y1="559" x2="476.5" y2="565" stroke="#4a4a4a" stroke-width="1.3"/><line x1="635.5" y1="559" x2="635.5" y2="565" stroke="#4a4a4a" stroke-width="1.3"/><line x1="794.5" y1="559" x2="794.5" y2="565" stroke="#4a4a4a" stroke-width="1.3"/><line x1="953.5" y1="559" x2="953.5" y2="565" stroke="#4a4a4a" stroke-width="1.3"/>
<defs><clipPath id="yc"><rect x="1032" y="100" width="59" height="520"/></clipPath></defs><g clip-path="url(#yc)"><line x1="1032" y1="118.5" x2="1037.5" y2="118.5" stroke="#555" stroke-width="1"/><text x="1038" y="123.1" textLength="55.5" lengthAdjust="spacingAndGlyphs" class="ax">180.000</text><line x1="1032" y1="186.5" x2="1037.5" y2="186.5" stroke="#555" stroke-width="1"/><text x="1038" y="191.1" textLength="55.5" lengthAdjust="spacingAndGlyphs" class="ax">160.000</text><line x1="1032" y1="252.5" x2="1037.5" y2="252.5" stroke="#555" stroke-width="1"/><text x="1038" y="257.1" textLength="55.5" lengthAdjust="spacingAndGlyphs" class="ax">140.000</text><line x1="1032" y1="319.5" x2="1037.5" y2="319.5" stroke="#555" stroke-width="1"/><text x="1038" y="324.1" textLength="55.5" lengthAdjust="spacingAndGlyphs" class="ax">120.000</text><line x1="1032" y1="386.5" x2="1037.5" y2="386.5" stroke="#555" stroke-width="1"/><text x="1038" y="391.1" textLength="55.5" lengthAdjust="spacingAndGlyphs" class="ax">100.000</text><line x1="1032" y1="453.5" x2="1037.5" y2="453.5" stroke="#555" stroke-width="1"/><text x="1038" y="458.1" textLength="47" lengthAdjust="spacingAndGlyphs" class="ax">80.000</text><line x1="1032" y1="520.5" x2="1037.5" y2="520.5" stroke="#555" stroke-width="1"/><text x="1038" y="525.1" textLength="47" lengthAdjust="spacingAndGlyphs" class="ax">60.000</text></g>
<text x="102.2" y="580" text-anchor="middle" textLength="34" lengthAdjust="spacingAndGlyphs" class="ax">2016</text><text x="257" y="580" text-anchor="middle" textLength="34" lengthAdjust="spacingAndGlyphs" class="ax">2017</text><text x="412.6" y="580" text-anchor="middle" textLength="34" lengthAdjust="spacingAndGlyphs" class="ax">2018</text><text x="570.4" y="580" text-anchor="middle" textLength="34" lengthAdjust="spacingAndGlyphs" class="ax">2019</text><text x="729.4" y="580" text-anchor="middle" textLength="34" lengthAdjust="spacingAndGlyphs" class="ax">2020</text><text x="888.2" y="580" text-anchor="middle" textLength="34" lengthAdjust="spacingAndGlyphs" class="ax">2021</text><text x="997.5" y="580" text-anchor="middle" textLength="34" lengthAdjust="spacingAndGlyphs" class="ax">2022</text>
<text x="24" y="125" textLength="74" lengthAdjust="spacingAndGlyphs" style="font-family:'Liberation Sans';font-size:14px;font-weight:bold;fill:#5a8ef5">USD/RUB</text>
<text x="103" y="125" textLength="57" lengthAdjust="spacingAndGlyphs" style="font-family:'Liberation Sans';font-size:14px;font-weight:bold;fill:#3c3c3c">54.773</text>
<text x="165.5" y="125" textLength="126" lengthAdjust="spacingAndGlyphs" style="font-family:'Liberation Sans';font-size:14px;font-weight:bold;fill:#e04a2f">-0.858(-1.54%)</text>
<path d="M1033,537 L1040,529 L1088,529 L1088,545 L1040,545 Z" fill="#222"/>
<text x="1039.6" y="542.7" textLength="47" lengthAdjust="spacingAndGlyphs" style="font-family:'Liberation Sans';font-size:15px;fill:#f4f4f4;stroke:#f4f4f4;stroke-width:0.2">54.773</text>
</svg>
<svg class="a" style="left:0;top:640px" width="1101" height="3"><line x1="0.6" y1="1" x2="1093" y2="1" stroke="#1a1a1a" stroke-width="1.8" stroke-dasharray="1.9 1.1"/></svg>
</body></html>
